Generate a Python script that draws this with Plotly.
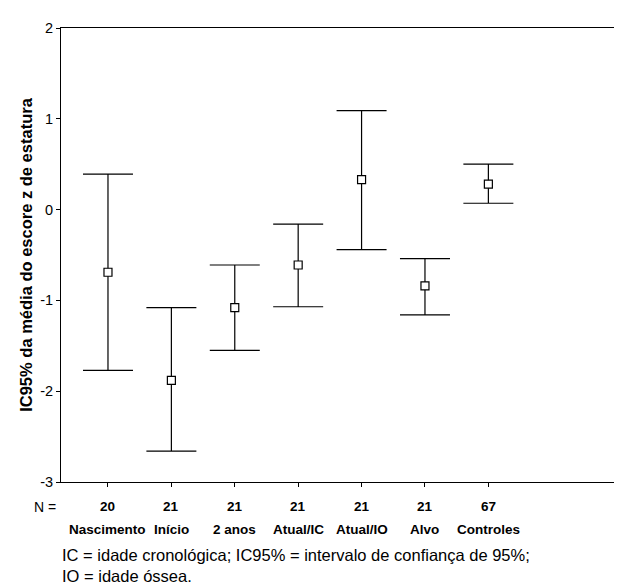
import plotly.graph_objects as go

categories = ["Nascimento", "Início", "2 anos", "Atual/IC", "Atual/IO", "Alvo", "Controles"]
n_values = [20, 21, 21, 21, 21, 21, 67]
means = [-0.69, -1.88, -1.08, -0.61, 0.33, -0.84, 0.28]
upper = [0.39, -1.08, -0.61, -0.16, 1.09, -0.54, 0.50]
lower = [-1.77, -2.66, -1.55, -1.07, -0.44, -1.16, 0.07]
y_ticks = [-3, -2, -1, 0, 1, 2]
footnote_lines = ["IC = idade cronológica; IC95% = intervalo de confiança de 95%;",
                  "IO = idade óssea."]

xs = list(range(len(categories)))
err_plus = [u - m for u, m in zip(upper, means)]
err_minus = [m - l for m, l in zip(means, lower)]

fig = go.Figure()
fig.add_trace(go.Scatter(
    x=xs, y=means, mode="markers",
    marker=dict(symbol="square", size=8, color="white",
                line=dict(color="black", width=1.2)),
    error_y=dict(type="data", symmetric=False, array=err_plus, arrayminus=err_minus,
                 color="black", thickness=1.2, width=25),
    showlegend=False, hoverinfo="skip",
))

font_main = "Liberation Sans, Arial, sans-serif"

annotations = []
for i, (c, n) in enumerate(zip(categories, n_values)):
    annotations.append(dict(x=i, y=-0.055, xref="x", yref="paper", text="<b>%d</b>" % n,
                            showarrow=False, xanchor="center", yanchor="middle",
                            font=dict(family=font_main, size=13.5, color="black")))
    annotations.append(dict(x=i, y=-0.104, xref="x", yref="paper", text="<b>%s</b>" % c,
                            showarrow=False, xanchor="center", yanchor="middle",
                            font=dict(family=font_main, size=13.5, color="black")))
annotations.append(dict(x=-0.006, y=-0.055, xref="paper", yref="paper", text="N =",
                        showarrow=False, xanchor="right", yanchor="middle",
                        font=dict(family=font_main, size=14, color="black")))
for k, (line, yy) in enumerate(zip(footnote_lines, [-0.161, -0.208])):
    annotations.append(dict(x=0.0, y=yy, xref="paper", yref="paper", text=line,
                            showarrow=False, xanchor="left", yanchor="middle", align="left",
                            borderpad=0,
                            font=dict(family=font_main, size=16.5, color="black")))

fig.update_layout(
    width=622, height=585,
    margin=dict(l=53, r=0, t=20, b=111),
    plot_bgcolor="white", paper_bgcolor="white",
    font=dict(family=font_main, size=14, color="black"),
    xaxis=dict(range=[-0.741, 8.234], tickvals=xs, ticktext=[""] * len(xs),
               showline=True, linecolor="black", linewidth=1.2, mirror=True,
               ticks="outside", ticklen=4, tickcolor="black", tickwidth=1.1,
               showgrid=False, zeroline=False),
    yaxis=dict(range=[-3, 2], tickvals=y_ticks, ticktext=[str(v) for v in y_ticks],
               showline=True, linecolor="black", linewidth=1.1,
               ticks="outside", ticklen=4, tickcolor="black", tickwidth=1.2,
               showgrid=False, zeroline=False,
               tickfont=dict(size=14.5),
               title=dict(text="<b>IC95% da média do escore z de estatura</b>",
                          font=dict(size=16.5), standoff=3)),
    annotations=annotations,
)

fig.write_html("out.html")
